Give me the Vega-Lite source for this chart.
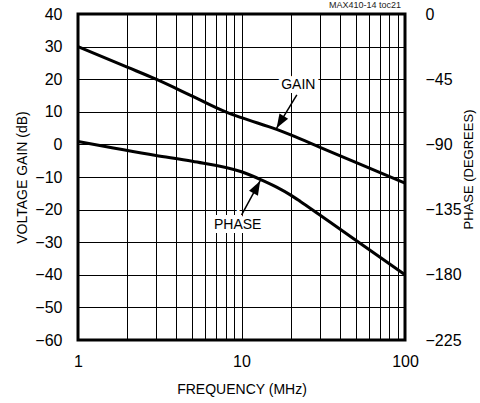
{
  "$schema": "https://vega.github.io/schema/vega-lite/v6.json",
  "width": 327,
  "height": 326,
  "autosize": {"type": "none"},
  "padding": {"left": 78, "top": 14, "right": 75, "bottom": 63},
  "background": "white",
  "title": {"text": "MAX410-14 toc21", "anchor": "end", "frame": "group", "fontSize": 9, "font": "Liberation Sans", "fontWeight": "normal", "color": "#222", "offset": 0, "dy": 4, "dx": -4},
  "datasets": {
    "gain": [
      {"freq": 1, "db": 30}, {"freq": 2, "db": 23.7}, {"freq": 3, "db": 20}, {"freq": 5, "db": 14.8},
      {"freq": 8, "db": 10}, {"freq": 10, "db": 8.2}, {"freq": 16.4, "db": 4.6}, {"freq": 20, "db": 2.9},
      {"freq": 30, "db": -0.8}, {"freq": 50, "db": -5.5}, {"freq": 100, "db": -11.85}
    ],
    "phase": [
      {"freq": 1, "deg": -88}, {"freq": 3, "deg": -97.6}, {"freq": 5, "deg": -101.6},
      {"freq": 10, "deg": -108.9}, {"freq": 13, "deg": -114.1}, {"freq": 16.4, "deg": -119.5},
      {"freq": 20, "deg": -125.0}, {"freq": 22.8, "deg": -129.2}, {"freq": 30, "deg": -138.6},
      {"freq": 50, "deg": -156.1}, {"freq": 100, "deg": -179.9}
    ],
    "labels": [
      {"text": "GAIN", "freq": 22.25, "db": 18.2},
      {"text": "PHASE", "freq": 9.48, "db": -24.7}
    ],
    "arrows": [
      {"label": "GAIN", "freq": 21.8, "db": 15.2, "freq2": 16.4, "db2": 5.0},
      {"label": "PHASE", "freq": 10.0, "db": -21.7, "freq2": 13.0, "db2": -11.2}
    ]
  },
  "config": {
    "view": {"stroke": "black", "strokeWidth": 3},
    "axis": {
      "labelFont": "Liberation Sans", "titleFont": "Liberation Sans",
      "labelColor": "black", "titleColor": "black", "titleFontWeight": "normal",
      "labelFontSize": 16, "titleFontSize": 14,
      "domain": false, "ticks": false,
      "gridColor": "black", "gridOpacity": 1, "gridWidth": 1
    }
  },
  "encoding": {
    "x": {
      "field": "freq", "type": "quantitative",
      "scale": {"type": "log", "domain": [1, 100], "nice": false},
      "axis": {
        "values": [1, 2, 3, 4, 5, 6, 7, 8, 9, 10, 20, 30, 40, 50, 60, 70, 80, 90, 100],
        "format": "d",
        "labelExpr": "datum.value == 1 || datum.value == 10 || datum.value == 100 ? datum.label : ''",
        "labelOverlap": false, "labelFlush": false,
        "labelPadding": 13,
        "title": "FREQUENCY (MHz)", "titlePadding": 13,
        "grid": true
      }
    }
  },
  "layer": [
    {
      "encoding": {
        "y": {
          "field": "db", "type": "quantitative",
          "scale": {"domain": [-60, 40], "nice": false},
          "axis": {
            "orient": "left",
            "values": [-60, -50, -40, -30, -20, -10, 0, 10, 20, 30, 40],
            "labelPadding": 16, "grid": true,
            "title": "VOLTAGE GAIN (dB)", "titlePadding": 5
          }
        }
      },
      "layer": [
        {"data": {"name": "gain"}, "mark": {"type": "line", "color": "black", "strokeWidth": 3, "interpolate": "monotone"}},
        {"data": {"name": "arrows"}, "mark": {"type": "rule", "color": "black", "strokeWidth": 1.5},
         "encoding": {"x2": {"field": "freq2"}, "y2": {"field": "db2"}}},
        {"data": {"name": "arrows"}, "transform": [{"filter": "datum.label == 'GAIN'"}],
         "mark": {"type": "point", "shape": "M0,0L-0.36,1L0.36,1Z", "filled": true, "color": "black", "opacity": 1, "size": 784, "angle": 210.8},
         "encoding": {"x": {"field": "freq2", "type": "quantitative"}, "y": {"field": "db2", "type": "quantitative"}}},
        {"data": {"name": "arrows"}, "transform": [{"filter": "datum.label == 'PHASE'"}],
         "mark": {"type": "point", "shape": "M0,0L-0.36,1L0.36,1Z", "filled": true, "color": "black", "opacity": 1, "size": 784, "angle": 28.3},
         "encoding": {"x": {"field": "freq2", "type": "quantitative"}, "y": {"field": "db2", "type": "quantitative"}}},
        {"data": {"name": "labels"}, "mark": {"type": "text", "font": "Liberation Sans", "fontSize": 14, "fill": "white", "stroke": "white", "strokeWidth": 8, "align": "center", "baseline": "middle"},
         "encoding": {"text": {"field": "text"}}},
        {"data": {"name": "labels"}, "mark": {"type": "text", "font": "Liberation Sans", "fontSize": 14, "fill": "black", "align": "center", "baseline": "middle"},
         "encoding": {"text": {"field": "text"}}}
      ]
    },
    {
      "data": {"name": "phase"},
      "mark": {"type": "line", "color": "black", "strokeWidth": 3, "interpolate": "monotone"},
      "encoding": {
        "y": {
          "field": "deg", "type": "quantitative",
          "scale": {"domain": [-225, 0], "nice": false},
          "axis": {
            "orient": "right",
            "values": [0, -45, -90, -135, -180, -225],
            "labelPadding": 20, "grid": false,
            "title": "PHASE (DEGREES)", "titleFontSize": 13, "titlePadding": 1,
            "titleAngle": 270, "titleBaseline": "top", "titleY": 155
          }
        }
      }
    }
  ],
  "resolve": {"scale": {"y": "independent"}}
}
